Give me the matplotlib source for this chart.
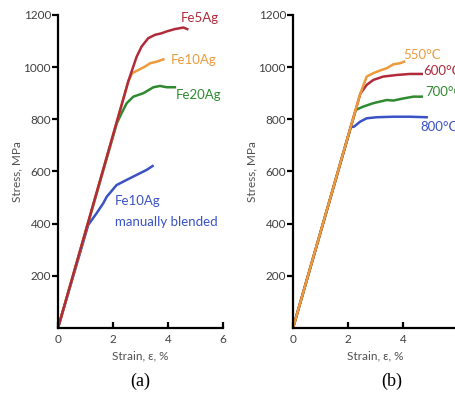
import matplotlib
matplotlib.use("Agg")
import matplotlib.pyplot as plt

# ---- data (panel a) ----
fe5_strain = [0, 2.38, 2.56, 2.73, 2.86, 3.04, 3.28, 3.53, 3.77, 3.95, 4.25, 4.56, 4.7]
fe5_stress = [0, 880, 947, 1000, 1040, 1079, 1111, 1124, 1130, 1137, 1146, 1152, 1146]
fe10_strain = [0, 2.56, 2.7, 2.92, 3.16, 3.35, 3.59, 3.83]
fe10_stress = [0, 947, 977, 989, 1002, 1015, 1021, 1030]
fe20_strain = [0, 2.14, 2.31, 2.5, 2.74, 3.1, 3.47, 3.71, 3.95, 4.25]
fe20_stress = [0, 785, 823, 862, 887, 900, 923, 928, 923, 923]
man_strain = [0, 1.1, 1.2, 1.41, 1.65, 1.77, 2.13, 2.5, 2.86, 3.22, 3.44]
man_stress = [0, 395, 410, 441, 479, 503, 548, 568, 587, 606, 621]

# ---- data (panel b) ----
t550_strain = [0, 2.45, 2.68, 2.92, 3.16, 3.41, 3.65, 3.89, 4.04]
t550_stress = [0, 900, 964, 977, 987, 996, 1011, 1015, 1021]
t600_strain = [0, 2.45, 2.68, 2.92, 3.28, 3.77, 4.25, 4.68]
t600_stress = [0, 899, 932, 951, 964, 970, 974, 974]
t700_strain = [0, 2.28, 2.56, 2.92, 3.41, 3.65, 4.01, 4.38, 4.68]
t700_stress = [0, 836, 849, 862, 874, 872, 880, 887, 887]
t800_strain = [0, 2.1, 2.22, 2.44, 2.68, 3.04, 3.65, 4.25, 4.86]
t800_stress = [0, 770, 772, 791, 804, 808, 810, 810, 808]

yticks = [200, 400, 600, 800, 1000, 1200]
xticks = [0, 2, 4, 6]

RED = "#b02a3a"
ORANGE = "#ec9a3a"
GREEN = "#2f8a2f"
BLUE = "#3a52c4"

plt.rcParams['font.family'] = ['Lato', 'DejaVu Sans']

fig = plt.figure(figsize=(4.56, 3.96), dpi=100)
W, H = 456, 396

def make_ax(x0px):
    ax = fig.add_axes([x0px / W, (H - 328) / H, 165 / W, (328 - 15) / H])
    ax.set_xlim(0, 6)
    ax.set_ylim(0, 1200)
    for s in ("top", "right"):
        ax.spines[s].set_visible(False)
    for s in ("left", "bottom"):
        ax.spines[s].set_linewidth(1.6)
        ax.spines[s].set_color("black")
    ax.set_yticks(yticks)
    ax.set_xticks(xticks)
    ax.tick_params(axis="y", direction="out", length=4, width=1.6,
                   labelsize=8.5, labelcolor="#404040", pad=1)
    ax.tick_params(axis="x", direction="in", length=4, width=1.6,
                   labelsize=8.5, labelcolor="#404040", pad=4)
    ax.set_ylabel("Stress, MPa", fontsize=8.5, color="#505050", labelpad=1)
    ax.set_xlabel("Strain, \u03b5, %", fontsize=8.5, color="#505050", labelpad=4)
    return ax

lw = 1.8
ax1 = make_ax(58)
ax1.plot(man_strain, man_stress, color=BLUE, lw=lw)
ax1.plot(fe20_strain, fe20_stress, color=GREEN, lw=lw)
ax1.plot(fe10_strain, fe10_stress, color=ORANGE, lw=lw)
ax1.plot(fe5_strain, fe5_stress, color=RED, lw=lw)

def px_text(xpx, ypx, s, color, **kw):
    fig.text(xpx / W, 1 - ypx / H, s, color=color, **kw)

px_text(181, 18, "Fe5Ag", RED, fontsize=9.5, va="center")
px_text(171, 60, "Fe10Ag", ORANGE, fontsize=9.5, va="center")
px_text(176, 95, "Fe20Ag", GREEN, fontsize=9.5, va="center")
px_text(115, 201, "Fe10Ag", BLUE, fontsize=9.5, va="center")
px_text(115, 222, "manually blended", BLUE, fontsize=9.5, va="center")

ax2 = make_ax(293)
ax2.plot(t800_strain, t800_stress, color=BLUE, lw=lw)
ax2.plot(t700_strain, t700_stress, color=GREEN, lw=lw)
ax2.plot(t600_strain, t600_stress, color=RED, lw=lw)
ax2.plot(t550_strain, t550_stress, color=ORANGE, lw=lw)

px_text(403, 55, "550\u00b0C", ORANGE, fontsize=9.5, va="center")
px_text(423, 71, "600\u00b0C", RED, fontsize=9.5, va="center")
px_text(425, 92, "700\u00b0C", GREEN, fontsize=9.5, va="center")
px_text(420, 127, "800\u00b0C", BLUE, fontsize=9.5, va="center")

fig.text(140 / W, 1 - 381 / H, "(a)", family="Liberation Serif", fontsize=13,
         ha="center", va="center", color="black")
fig.text(392 / W, 1 - 381 / H, "(b)", family="Liberation Serif", fontsize=13,
         ha="center", va="center", color="black")

fig.savefig("out.png", dpi=100)
